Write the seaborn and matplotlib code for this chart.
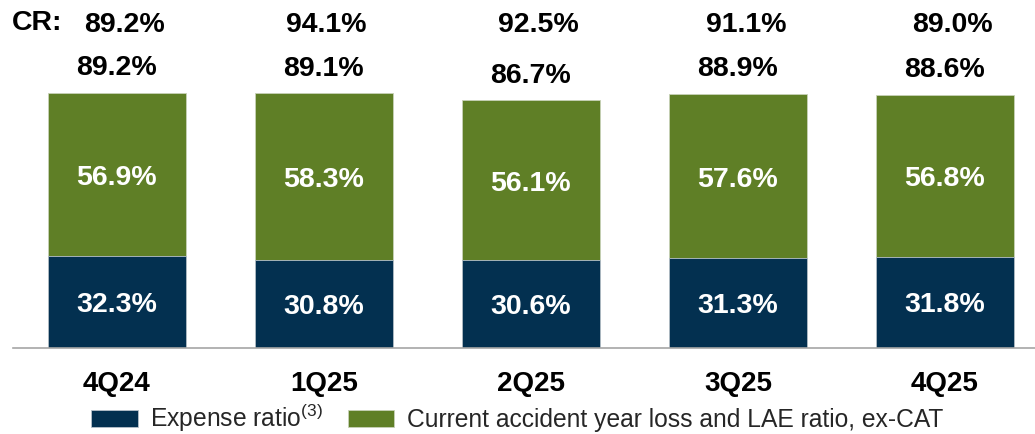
import matplotlib
matplotlib.use("Agg")
import matplotlib.pyplot as plt
import seaborn as sns
import pandas as pd
from matplotlib.patches import Patch

quarters = ["4Q24", "1Q25", "2Q25", "3Q25", "4Q25"]
expense_ratio = [32.3, 30.8, 30.6, 31.3, 31.8]
loss_ratio = [56.9, 58.3, 56.1, 57.6, 56.8]
ex_cat_total = [89.2, 89.1, 86.7, 88.9, 88.6]
combined_ratio = [89.2, 94.1, 92.5, 91.1, 89.0]

navy = "#033050"
green = "#5f7f26"

sns.set_theme(style="white")
plt.rcParams["font.family"] = ["Liberation Sans", "DejaVu Sans"]
plt.rcParams["mathtext.fontset"] = "custom"
plt.rcParams["mathtext.rm"] = "Liberation Sans"

df = pd.DataFrame({"quarter": quarters, "expense": expense_ratio,
                   "loss": loss_ratio})
df["stack"] = df["expense"] + df["loss"]

fig = plt.figure(figsize=(10.35, 4.34), dpi=100)
ax = fig.add_axes([13 / 1035, 86 / 434, 1022 / 1035, 348 / 434])

# green on the full height, navy on top of it for the lower part
sns.barplot(data=df, x="quarter", y="stack", color=green, width=0.667,
            saturation=1, edgecolor="#c8d2b8", linewidth=0.6, ax=ax)
sns.barplot(data=df, x="quarter", y="expense", color=navy, width=0.667,
            saturation=1, edgecolor="#b8c2cc", linewidth=0.6, ax=ax)

ax.set_xlim(-0.502, 4.435)
ax.set_ylim(0, 121.7)
ax.set_xlabel("")
ax.set_ylabel("")
ax.set_yticks([])
ax.set_xticks([])
for side in ["top", "right", "left"]:
    ax.spines[side].set_visible(False)
ax.spines["bottom"].set_color("#a6a6a6")
ax.spines["bottom"].set_linewidth(1.2)

lbl = dict(ha="center", va="center", fontsize=20.5, fontweight="bold")
for i, q in enumerate(quarters):
    e, l = expense_ratio[i], loss_ratio[i]
    ax.text(i, e / 2 - 1.0, f"{e:.1f}%", color="white", **lbl)
    ax.text(i, e + l / 2 - 1.2, f"{l:.1f}%", color="white", **lbl)
    ax.text(i, ex_cat_total[i] + 4, f"{ex_cat_total[i]:.1f}%", ha="center",
            va="bottom", fontsize=20.5, fontweight="bold", color="black")
    # CR row sits a little right of the bar centres
    shift = 0.01 if i == 1 else 0.038
    ax.text(i + shift, 112.8, f"{combined_ratio[i]:.1f}%", color="black", **lbl)
    ax.text(i, -12.5, q, ha="center", va="center", fontsize=20,
            fontweight="bold", color="black")

fig.text(12 / 1035, 1 - 23 / 434, "CR:", ha="left", va="center",
         fontsize=20.5, fontweight="bold", color="black")

handles = [Patch(facecolor=navy, edgecolor="#b8c2cc", linewidth=0.6),
           Patch(facecolor=green, edgecolor="#c8d2b8", linewidth=0.6)]
labels = [r"Expense ratio$^{(3)}$",
          "Current accident year loss and LAE ratio, ex-CAT"]
fig.legend(handles, labels, loc="center", bbox_to_anchor=(517 / 1035, 1 - 418 / 434),
           ncol=2, frameon=False, fontsize=17.7, handlelength=1.9,
           handleheight=0.7, handletextpad=0.5, columnspacing=1.0,
           borderpad=0.1)

fig.savefig("out.png", dpi=100)
